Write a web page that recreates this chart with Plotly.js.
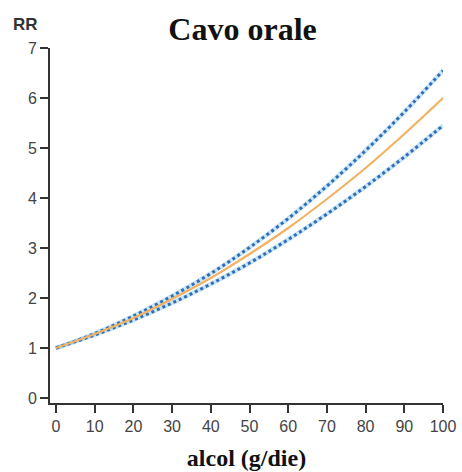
<!DOCTYPE html>
<html>
<head>
<meta charset="utf-8">
<script src="https://cdn.plot.ly/plotly-3.0.1.min.js"></script>
<style>html,body{margin:0;padding:0;background:#fff;}#chart{width:462px;height:472px;}</style>
</head>
<body>
<div id="chart"></div>
<script>
const alcol = [0, 10, 20, 30, 40, 50, 60, 70, 80, 90, 100];
const rrCentral = [1.0, 1.28, 1.60, 1.98, 2.40, 2.88, 3.40, 3.98, 4.60, 5.28, 6.00];
const rrUpper = [1.0, 1.29, 1.64, 2.04, 2.49, 3.01, 3.59, 4.24, 4.95, 5.72, 6.55];
const rrLower = [1.0, 1.26, 1.56, 1.90, 2.28, 2.70, 3.17, 3.68, 4.23, 4.82, 5.45];
const xTicks = [0, 10, 20, 30, 40, 50, 60, 70, 80, 90, 100];
const yTicks = [0, 1, 2, 3, 4, 5, 6, 7];

const blue = '#2f6db5';
const traces = [
  {x: alcol, y: rrUpper, mode: 'lines', line: {color: 'rgba(120,190,235,0.4)', width: 4.5, shape: 'spline'}, hoverinfo: 'skip'},
  {x: alcol, y: rrLower, mode: 'lines', line: {color: 'rgba(120,190,235,0.4)', width: 4.5, shape: 'spline'}, hoverinfo: 'skip'},
  {x: alcol, y: rrUpper, mode: 'lines', line: {color: blue, width: 3, dash: 'dot', shape: 'spline'}},
  {x: alcol, y: rrLower, mode: 'lines', line: {color: blue, width: 3, dash: 'dot', shape: 'spline'}},
  {x: alcol, y: rrCentral, mode: 'lines', line: {color: '#f2b263', width: 2.2, shape: 'spline'}}
];

const tickFont = {family: 'Liberation Sans, Arial, sans-serif', size: 16, color: '#444'};
const layout = {
  width: 462, height: 472,
  margin: {l: 50, r: 19, t: 48, b: 69},
  paper_bgcolor: '#fff', plot_bgcolor: '#fff',
  showlegend: false,
  title: {text: '<b>Cavo orale</b>', font: {family: 'Liberation Serif, Times New Roman, serif', size: 32, color: '#111'},
          x: 0.49, xref: 'paper', y: 0.94, yref: 'container', yanchor: 'middle'},
  xaxis: {
    range: [-1.55, 100], tickvals: xTicks, ticktext: xTicks.map(String),
    showgrid: false, zeroline: false, showline: true, linecolor: '#333', linewidth: 2,
    ticks: 'outside', ticklen: 8, tickwidth: 2, tickcolor: '#333',
    tickfont: tickFont,
    title: {text: '<b>alcol (g/die)</b>', font: {family: 'Liberation Serif, Times New Roman, serif', size: 24, color: '#111'}, standoff: 15}
  },
  yaxis: {
    range: [-0.1, 7], tickvals: yTicks, ticktext: yTicks.map(String),
    showgrid: false, zeroline: false, showline: true, linecolor: '#333', linewidth: 2,
    ticks: 'outside', ticklen: 8, tickwidth: 2, tickcolor: '#333',
    tickfont: tickFont
  },
  annotations: [
    {text: '<b>RR</b>', xref: 'paper', yref: 'paper', x: -0.062, y: 1.066, xanchor: 'center', yanchor: 'middle',
     showarrow: false, font: {family: 'Liberation Sans, Arial, sans-serif', size: 17, color: '#333'}}
  ]
};
Plotly.newPlot('chart', traces, layout, {staticPlot: true, displayModeBar: false});
</script>
</body>
</html>
